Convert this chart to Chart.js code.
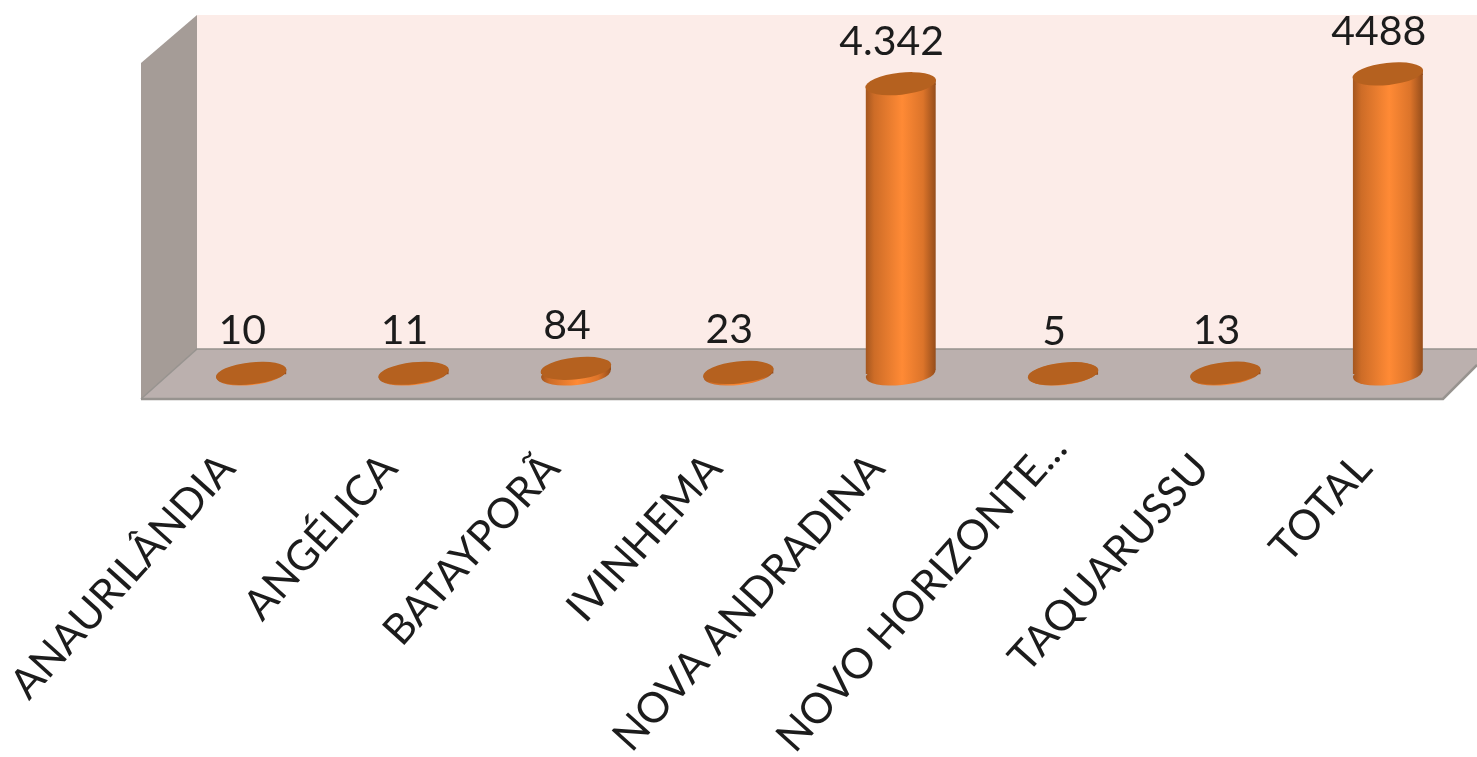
<!DOCTYPE html>
<html>
<head>
<meta charset="utf-8">
<title>Chart</title>
<script src="https://cdn.jsdelivr.net/npm/chart.js@4"></script>
<style>
  html, body { margin: 0; padding: 0; background: #fff; overflow: hidden; }
  canvas { display: block; }
</style>
</head>
<body>
<canvas id="myChart" width="1477" height="757"></canvas>
<script>
const categories = ['ANAURILÂNDIA', 'ANGÉLICA', 'BATAYPORÃ', 'IVINHEMA', 'NOVA ANDRADINA', 'NOVO HORIZONTE...', 'TAQUARUSSU', 'TOTAL'];
const seriesValues = [10, 11, 84, 23, 4342, 5, 13, 4488];
const valueLabels = ['10', '11', '84', '23', '4.342', '5', '13', '4488'];

const fontName = 'Lato, Carlito, sans-serif';

// horizontal shading that makes a bar look like a cylinder
function cylinderGradient(ctx, x) {
  const g = ctx.createLinearGradient(x - 35, 0, x + 35, 0);
  g.addColorStop(0, '#a3561f');
  g.addColorStop(0.12, '#cd6c27');
  g.addColorStop(0.52, '#ff8a35');
  g.addColorStop(0.82, '#dc742a');
  g.addColorStop(1, '#954d1b');
  return g;
}

function ellipse(ctx, x, y, rx, fill) {
  ctx.beginPath();
  ctx.ellipse(x, y, rx, 11, -0.11, 0, Math.PI * 2);
  ctx.fillStyle = fill;
  ctx.fill();
}

// back wall, side wall and floor of the 3D box
const boxPlugin = {
  id: 'box',
  beforeDraw(chart) {
    const { ctx } = chart;

    // the cut-off label sits further up its slant than the others
    const longLabel = chart.scales.x.getLabelItems()[5];
    longLabel.options.translation[0] += 20;
    longLabel.options.translation[1] -= 20;

    ctx.save();
    ctx.fillStyle = '#fcece8';
    ctx.fillRect(197, 15, 1280, 335);

    ctx.fillStyle = '#a59c97';
    ctx.beginPath();
    ctx.moveTo(141, 63);
    ctx.lineTo(197, 15);
    ctx.lineTo(197, 349);
    ctx.lineTo(141, 399);
    ctx.closePath();
    ctx.fill();

    ctx.fillStyle = '#bbb0ae';
    ctx.beginPath();
    ctx.moveTo(197, 349);
    ctx.lineTo(1477, 349);
    ctx.lineTo(1477, 365);
    ctx.lineTo(1443, 399);
    ctx.lineTo(141, 399);
    ctx.closePath();
    ctx.fill();

    ctx.strokeStyle = '#97938f';
    ctx.lineWidth = 2.5;
    ctx.beginPath();
    ctx.moveTo(141, 399);
    ctx.lineTo(1443, 399);
    ctx.lineTo(1477, 365);
    ctx.stroke();
    ctx.lineWidth = 1.5;
    ctx.beginPath();
    ctx.moveTo(141, 399);
    ctx.lineTo(197, 349);
    ctx.lineTo(1477, 349);
    ctx.stroke();
    ctx.restore();
  },
  beforeDatasetsDraw(chart) {
    const { ctx } = chart;
    const bars = chart.getDatasetMeta(0).data;
    bars.forEach(bar => {
      const fill = cylinderGradient(ctx, bar.x);
      ellipse(ctx, bar.x, bar.base, 35, fill);
      // small wedge so the tilted top joins the body on the right
      ctx.beginPath();
      ctx.moveTo(bar.x + 35, bar.y - 4);
      ctx.lineTo(bar.x + 35, bar.y + 1);
      ctx.lineTo(bar.x - 35, bar.y + 1);
      ctx.closePath();
      ctx.fillStyle = fill;
      ctx.fill();
    });
    // cut the square bar corners to the slant of the ellipses
    ctx.save();
    ctx.beginPath();
    bars.forEach(bar => {
      ctx.moveTo(bar.x - 35, bar.y + 4);
      ctx.lineTo(bar.x + 35, bar.y - 4);
      ctx.lineTo(bar.x + 35, bar.base - 4);
      ctx.lineTo(bar.x - 35, bar.base + 4);
      ctx.closePath();
    });
    ctx.clip();
  },
  afterDatasetsDraw(chart) {
    const { ctx } = chart;
    ctx.restore();
    ctx.save();
    chart.getDatasetMeta(0).data.forEach((bar, i) => {
      ellipse(ctx, bar.x, bar.y, 35.5, '#b5611f');
      ctx.fillStyle = '#1c1c1c';
      ctx.font = '41px ' + fontName;
      ctx.textAlign = 'center';
      ctx.textBaseline = 'alphabetic';
      ctx.fillText(valueLabels[i], bar.x - 9, bar.y - 29);
    });
    ctx.restore();
  }
};

new Chart(document.getElementById('myChart'), {
  type: 'bar',
  data: {
    labels: categories,
    datasets: [{
      data: seriesValues,
      barThickness: 70,
      borderWidth: 0,
      backgroundColor: c => {
        const x = c.chart.scales.x ? c.chart.scales.x.getPixelForTick(c.dataIndex) : NaN;
        return Number.isFinite(x) ? cylinderGradient(c.chart.ctx, x) : '#e8782c';
      }
    }]
  },
  options: {
    responsive: false,
    animation: false,
    layout: { padding: { left: 170, right: 8, top: 15, bottom: 0 } },
    plugins: { legend: { display: false }, tooltip: { enabled: false } },
    scales: {
      x: {
        grid: { display: false, drawTicks: false },
        border: { display: false },
        afterFit(scale) {
          scale.paddingLeft = 0;
          scale.paddingRight = 0;
          scale.height = 383;
        },
        ticks: {
          autoSkip: false,
          minRotation: 48,
          maxRotation: 48,
          padding: 70,
          labelOffset: -24,
          color: '#1c1c1c',
          font: { family: fontName, size: 42 }
        }
      },
      y: { display: false, min: 0, max: 5370 }
    }
  },
  plugins: [boxPlugin]
});
</script>
</body>
</html>
